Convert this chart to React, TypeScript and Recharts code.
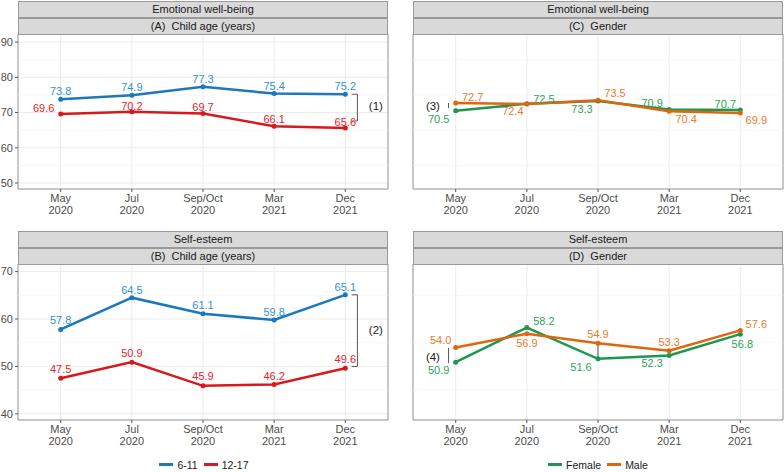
import React from 'react';
import {
  LineChart,
  Line,
  XAxis,
  YAxis,
  CartesianGrid,
  ReferenceLine,
  ReferenceArea,
  ReferenceDot,
  LabelList,
  Legend,
} from 'recharts';

const months = ['May', 'Jul', 'Sep/Oct', 'Mar', 'Dec'];
const years = ['2020', '2020', '2020', '2021', '2021'];

// Emotional well-being
const ewbAge611 = [73.8, 74.9, 77.3, 75.4, 75.2];
const ewbAge1217 = [69.6, 70.2, 69.7, 66.1, 65.6];
const ewbFemale = [70.5, 72.5, 73.3, 70.9, 70.7];
const ewbMale = [72.7, 72.4, 73.5, 70.4, 69.9];

// Self-esteem
const seAge611 = [57.8, 64.5, 61.1, 59.8, 65.1];
const seAge1217 = [47.5, 50.9, 45.9, 46.2, 49.6];
const seFemale = [50.9, 58.2, 51.6, 52.3, 56.8];
const seMale = [54.0, 56.9, 54.9, 53.3, 57.6];

const ewbTicks = [50, 60, 70, 80, 90];
const ewbMinor = [55, 65, 75, 85];
const seTicks = [40, 50, 60, 70];
const seMinor = [45, 55, 65];

const FONT = '"Liberation Sans", Arial, Helvetica, sans-serif';
const BLUE = '#1b78bd';
const RED = '#d7191c';
const GREEN = '#1a9850';
const ORANGE = '#e0650f';
const BLUE_TXT = '#3590d4';
const RED_TXT = '#e3262b';
const GREEN_TXT = '#2aa55a';
const ORANGE_TXT = '#e87b2c';

// label offsets (dx, dy) from each point, to mimic the repelled labels
const offA611 = [[0, -8], [0, -8], [0, -8], [0, -8], [0, -8]];
const offA1217 = [[-17, -6], [0, -6], [0, -7], [0, -7], [0, -6]];
const offB611 = [[0, -9], [0, -8], [0, -9], [0, -8], [0, -8]];
const offB1217 = [[0, -9], [0, -9], [0, -10], [0, -8], [0, -9]];
const offCMale = [[17, -6], [-14, 7], [17, -7], [17, 8], [16, 7]];
const offCFemale = [[-17, 8], [17, -5], [-16, 8], [-17, -6], [-15, -6]];
const offDMale = [[-15, -7], [0, 9], [0, -9], [0, -9], [16, -6]];
const offDFemale = [[-17, 8], [17, -7], [-17, 8], [-17, 7], [2, 10]];

const X_DOMAIN = [-0.6, 4.6];

const MonthTick = (props: any) => {
  const { x, y, payload } = props;
  const i = payload.value;
  return (
    <g>
      <text x={x} y={y + 8} textAnchor="middle" fontSize={11} fill="#4d4d4d" fontFamily={FONT}>
        {months[i]}
      </text>
      <text x={x} y={y + 20} textAnchor="middle" fontSize={11} fill="#4d4d4d" fontFamily={FONT}>
        {years[i]}
      </text>
    </g>
  );
};

const makeLabel = (offsets: number[][], color: string) => (p: any) => {
  const o = offsets[p.index] || [0, -8];
  return (
    <text
      x={p.x + o[0]}
      y={p.y + o[1] + 4}
      textAnchor="middle"
      fontSize={11}
      fill={color}
      fontFamily={FONT}
    >
      {Number(p.value).toFixed(1)}
    </text>
  );
};

const legendContent = (items: { name: string; color: string }[], shift: number) => () => (
  <div
    style={{
      display: 'flex',
      justifyContent: 'center',
      alignItems: 'center',
      height: 22,
      boxSizing: 'border-box',
      paddingTop: 7,
      paddingLeft: shift,
      fontSize: 10.5,
      color: '#1a1a1a',
      fontFamily: FONT,
    }}
  >
    {items.map((it) => (
      <span key={it.name} style={{ display: 'flex', alignItems: 'center', marginRight: 6 }}>
        <span style={{ display: 'inline-block', width: 14, height: 3, background: it.color, marginRight: 4 }} />
        {it.name}
      </span>
    ))}
  </div>
);

type Series = { key: string; name: string; values: number[]; color: string; txt: string; offsets: number[][] };

function Panel(props: {
  width: number;
  height: number;
  left: boolean;
  domain: number[];
  ticks: number[];
  minor: number[];
  series: Series[];
  extras: React.ReactNode[];
  legendShift?: number;
}) {
  const { width, height, left, domain, ticks, minor, series, extras, legendShift } = props;
  const rows = months.map((m, i) => {
    const r: any = { i, month: m };
    series.forEach((s) => (r[s.key] = s.values[i]));
    return r;
  });
  const margin = left ? { top: 34, right: 4, bottom: 0, left: 0 } : { top: 34, right: 1, bottom: 0, left: 21 };
  return (
    <LineChart width={width} height={height} data={rows} margin={margin}>
      <CartesianGrid stroke="#ebebeb" strokeWidth={1} />
      {minor.map((v) => (
        <ReferenceLine key={'m' + v} y={v} stroke="#f4f4f4" strokeWidth={0.8} />
      ))}
      <XAxis
        dataKey="i"
        type="number"
        domain={X_DOMAIN}
        ticks={[0, 1, 2, 3, 4]}
        allowDataOverflow
        axisLine={false}
        tickSize={3}
        tickMargin={2}
        tickLine={{ stroke: '#555' }}
        tick={<MonthTick />}
        height={legendShift !== undefined ? 30 : 41}
      />
      <YAxis
        type="number"
        domain={domain}
        ticks={ticks}
        allowDataOverflow
        axisLine={false}
        width={left ? 18 : 0}
        tickSize={left ? 3 : 0}
        tickMargin={2}
        tickLine={left ? { stroke: '#555' } : false}
        tick={left ? { fontSize: 11, fill: '#4d4d4d', fontFamily: FONT } : false}
      />
      <ReferenceArea
        x1={X_DOMAIN[0]}
        x2={X_DOMAIN[1]}
        y1={domain[0]}
        y2={domain[1]}
        fill="none"
        stroke="#999"
        strokeWidth={1}
        ifOverflow="visible"
      />
      {extras}
      {series.map((s) => (
        <Line
          key={s.key}
          type="linear"
          dataKey={s.key}
          name={s.name}
          stroke={s.color}
          strokeWidth={2.5}
          dot={{ r: 2.5, fill: s.color, stroke: s.color, strokeWidth: 0 }}
          activeDot={false}
          isAnimationActive={false}
        >
          <LabelList dataKey={s.key} content={makeLabel(s.offsets, s.txt)} />
        </Line>
      ))}
      {legendShift !== undefined && (
        <Legend
          verticalAlign="bottom"
          height={22}
          content={legendContent(
            series.map((s) => ({ name: s.name, color: s.color })),
            legendShift
          )}
        />
      )}
    </LineChart>
  );
}

const seg = (key: string, x1: number, y1: number, x2: number, y2: number) => (
  <ReferenceLine
    key={key}
    segment={[{ x: x1, y: y1 }, { x: x2, y: y2 }]}
    stroke="#555"
    strokeWidth={1}
    ifOverflow="visible"
  />
);

const note = (key: string, x: number, y: number, text: string) => (
  <ReferenceDot
    key={key}
    x={x}
    y={y}
    r={0}
    fill="none"
    stroke="none"
    ifOverflow="visible"
    label={{ value: text, position: 'center', fontSize: 11.5, fill: '#222', fontFamily: FONT }}
  />
);

function Strip({ x, y, top, bottom }: { x: number; y: number; top: string; bottom: string }) {
  const box: React.CSSProperties = {
    position: 'absolute',
    left: x,
    width: 370,
    height: 17,
    boxSizing: 'border-box',
    border: '1px solid #9a9a9a',
    background: '#d9d9d9',
    fontSize: 11,
    lineHeight: '15px',
    textAlign: 'center',
    color: '#1a1a1a',
    fontFamily: FONT,
    whiteSpace: 'pre',
  };
  return (
    <>
      <div style={{ ...box, top: y }}>{top}</div>
      <div style={{ ...box, top: y + 17, height: 17 }}>{bottom}</div>
    </>
  );
}

export default function App() {
  const ageA: Series[] = [
    { key: 'a611', name: '6-11', values: ewbAge611, color: BLUE, txt: BLUE_TXT, offsets: offA611 },
    { key: 'a1217', name: '12-17', values: ewbAge1217, color: RED, txt: RED_TXT, offsets: offA1217 },
  ];
  const ageB: Series[] = [
    { key: 'a611', name: '6-11', values: seAge611, color: BLUE, txt: BLUE_TXT, offsets: offB611 },
    { key: 'a1217', name: '12-17', values: seAge1217, color: RED, txt: RED_TXT, offsets: offB1217 },
  ];
  const genC: Series[] = [
    { key: 'f', name: 'Female', values: ewbFemale, color: GREEN, txt: GREEN_TXT, offsets: offCFemale },
    { key: 'm', name: 'Male', values: ewbMale, color: ORANGE, txt: ORANGE_TXT, offsets: offCMale },
  ];
  const genD: Series[] = [
    { key: 'f', name: 'Female', values: seFemale, color: GREEN, txt: GREEN_TXT, offsets: offDFemale },
    { key: 'm', name: 'Male', values: seMale, color: ORANGE, txt: ORANGE_TXT, offsets: offDMale },
  ];

  return (
    <div style={{ position: 'relative', width: 784, height: 472, background: '#fff', fontFamily: FONT, overflow: 'hidden' }}>
      <style>{'body{margin:0}'}</style>
      <div style={{ position: 'absolute', left: 0, top: 0 }}>
        <Panel
          width={392}
          height={230}
          left
          domain={[48.3, 92.3]}
          ticks={ewbTicks}
          minor={ewbMinor}
          series={ageA}
          extras={[
            seg('a1', 4.09, 75.2, 4.17, 75.2),
            seg('a2', 4.17, 75.2, 4.17, 67.6),
            seg('a3', 4.17, 67.6, 4.09, 67.6),
            note('a4', 4.43, 71.8, '(1)'),
          ]}
        />
      </div>
      <div style={{ position: 'absolute', left: 392, top: 0 }}>
        <Panel
          width={392}
          height={230}
          left={false}
          domain={[48.3, 92.3]}
          ticks={ewbTicks}
          minor={ewbMinor}
          series={genC}
          extras={[seg('c1', -0.1, 72.75, -0.1, 71.25), note('c2', -0.32, 72.0, '(3)')]}
        />
      </div>
      <div style={{ position: 'absolute', left: 0, top: 230 }}>
        <Panel
          width={392}
          height={242}
          left
          domain={[38.7, 71.6]}
          ticks={seTicks}
          minor={seMinor}
          series={ageB}
          legendShift={26}
          extras={[
            seg('b1', 4.09, 65.1, 4.17, 65.1),
            seg('b2', 4.17, 65.1, 4.17, 50.0),
            seg('b3', 4.17, 50.0, 4.09, 50.0),
            note('b4', 4.43, 57.7, '(2)'),
          ]}
        />
      </div>
      <div style={{ position: 'absolute', left: 392, top: 230 }}>
        <Panel
          width={392}
          height={242}
          left={false}
          domain={[38.7, 71.6]}
          ticks={seTicks}
          minor={seMinor}
          series={genD}
          legendShift={6}
          extras={[
            seg('d1', -0.1, 53.9, -0.1, 50.7),
            note('d2', -0.32, 52.0, '(4)'),
            seg('d3', 2, 54.9, 2, 51.6),
          ]}
        />
      </div>
      <Strip x={18} y={1} top="Emotional well-being" bottom="(A)  Child age (years)" />
      <Strip x={413} y={1} top="Emotional well-being" bottom="(C)  Gender" />
      <Strip x={18} y={231} top="Self-esteem" bottom="(B)  Child age (years)" />
      <Strip x={413} y={231} top="Self-esteem" bottom="(D)  Gender" />
    </div>
  );
}
